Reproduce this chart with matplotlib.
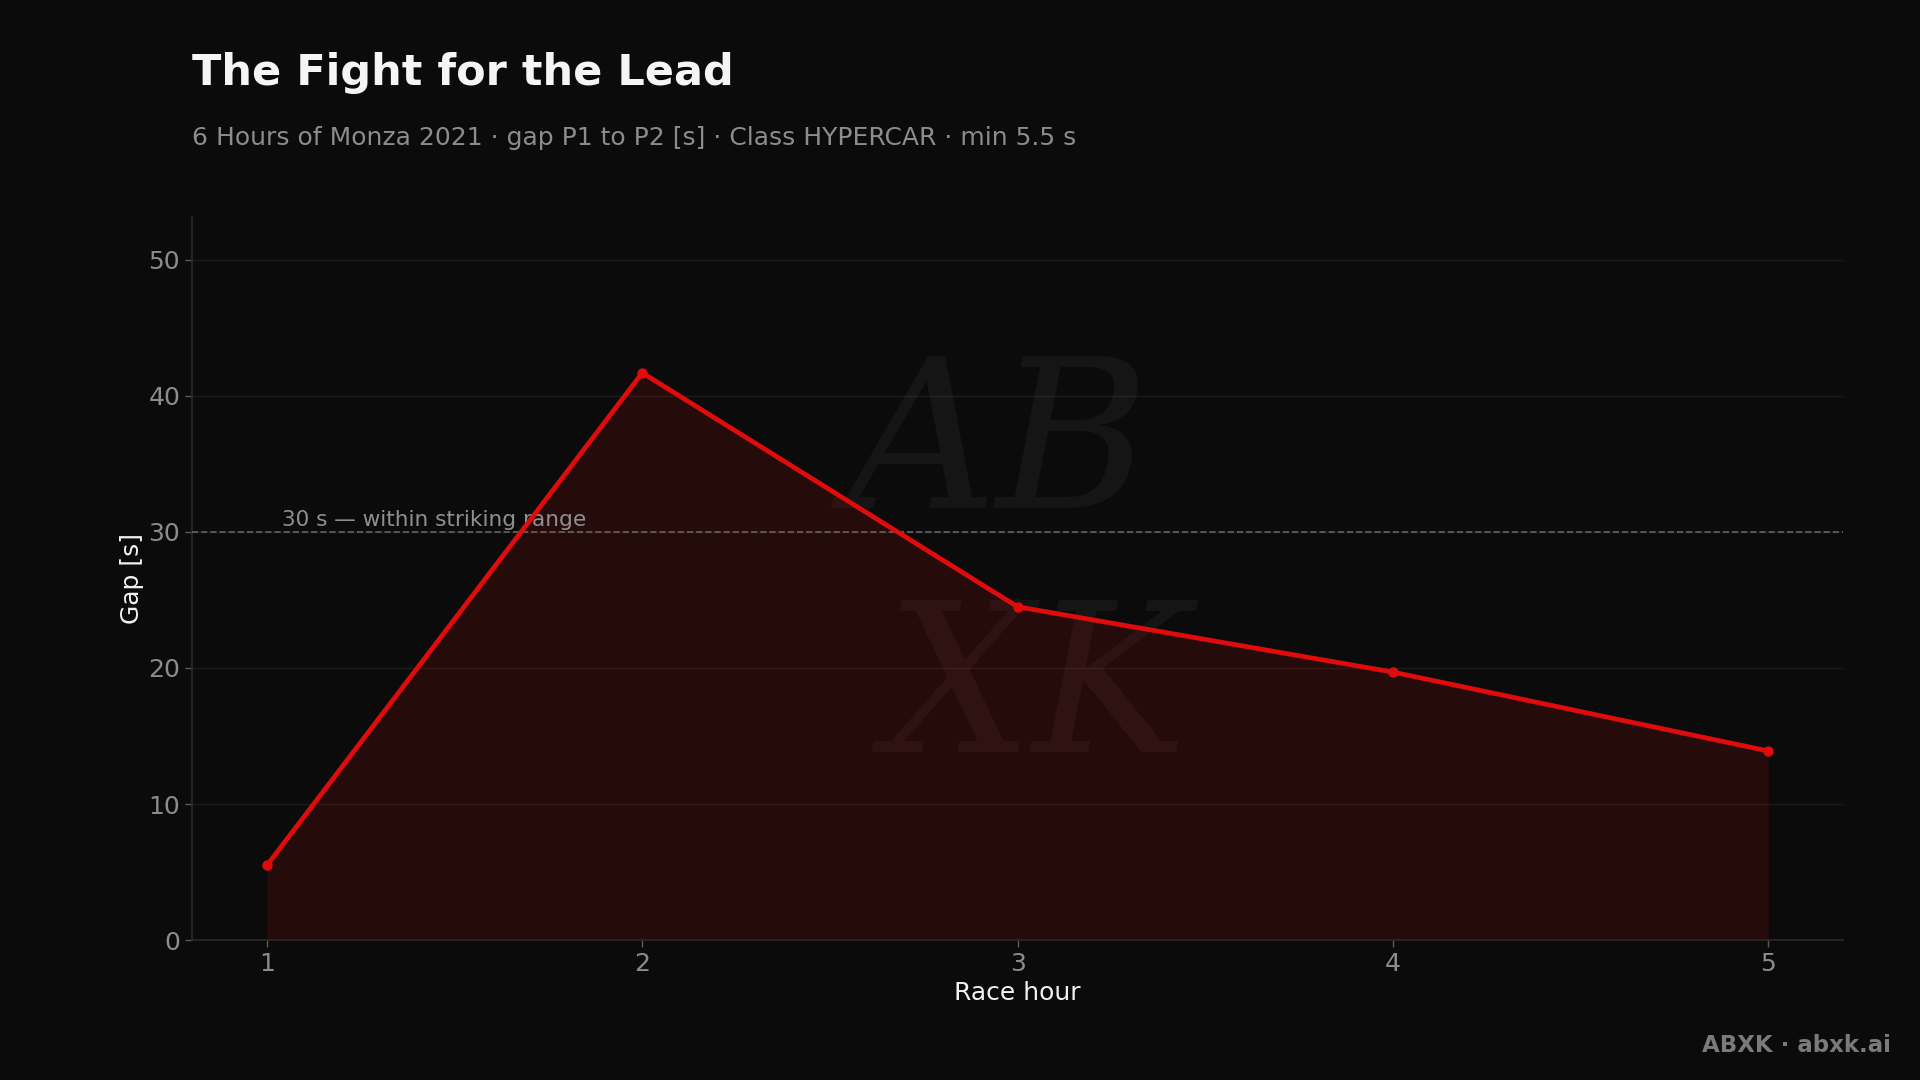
import matplotlib
matplotlib.use("Agg")
import matplotlib.pyplot as plt

# ------------------------------------------------------------
# Dados
# ------------------------------------------------------------
horas = [1, 2, 3, 4, 5]
gap_p1_p2 = [5.5, 41.7, 24.5, 19.7, 13.9]   # s
limite_ataque = 30

titulo = "The Fight for the Lead"
subtitulo = "6 Hours of Monza 2021 · gap P1 to P2 [s] · Class HYPERCAR · min 5.5 s"

# ------------------------------------------------------------
# Estilo
# ------------------------------------------------------------
fundo = "#0b0b0b"
vermelho = "#e00b0b"
cinza = "#8c8c8c"

plt.rcParams["font.family"] = ["DejaVu Sans"]

fig = plt.figure(figsize=(19.2, 10.8), dpi=100, facecolor=fundo)
ax = fig.add_axes([0.1, 0.1296, 0.86, 0.6694])
ax.set_facecolor(fundo)

# marca d'agua central
ax.text(2.95, 36, "AB", transform=ax.transData, fontsize=150, color="#ffffff",
        alpha=0.045, ha="center", va="center", style="italic",
        family="DejaVu Serif", zorder=1)
ax.text(3.05, 18, "XK", transform=ax.transData, fontsize=150, color="#ffffff",
        alpha=0.045, ha="center", va="center", style="italic",
        family="DejaVu Serif", zorder=1)

# area + linha
ax.fill_between(horas, gap_p1_p2, 0, color=vermelho, alpha=0.13, lw=0, zorder=2)
ax.plot(horas, gap_p1_p2, color=vermelho, lw=3.4, marker="o", markersize=6.5,
        zorder=4)

# linha de referencia
ax.axhline(limite_ataque, color="#6a6a6a", lw=1.1, ls=(0, (4, 2)), zorder=3)
ax.text(1.04, limite_ataque + 0.15, "30 s — within striking range",
        color="#8f8f8f", fontsize=15.6, ha="left", va="bottom", zorder=3)

# eixos
ax.set_xlim(0.8, 5.2)
ax.set_ylim(0, 53.15)
ax.set_xticks(horas)
ax.set_yticks([0, 10, 20, 30, 40, 50])
ax.grid(axis="y", color="#1c1c1c", lw=1, zorder=0)
ax.set_axisbelow(True)

for lado in ["top", "right"]:
    ax.spines[lado].set_visible(False)
for lado in ["left", "bottom"]:
    ax.spines[lado].set_color("#2a2a2a")
    ax.spines[lado].set_linewidth(1.2)

ax.tick_params(colors="#5a5a5a", labelcolor=cinza, labelsize=18, length=5,
               width=1)
ax.set_xlabel("Race hour", color="#f2f2f2", fontsize=18, labelpad=4)
ax.set_ylabel("Gap [s]", color="#f2f2f2", fontsize=18, labelpad=3)

# titulos
fig.text(0.1, 0.932, titulo, color="#f5f5f5", fontsize=31, fontweight="bold",
         ha="left", va="center")
fig.text(0.1, 0.872, subtitulo, color=cinza, fontsize=18, ha="left",
         va="center")

fig.text(0.985, 0.032, "ABXK · abxk.ai", color="#7a7a7a", fontsize=16.5,
         fontweight="bold", ha="right", va="center")

fig.savefig("out.png", dpi=100, facecolor=fundo)
